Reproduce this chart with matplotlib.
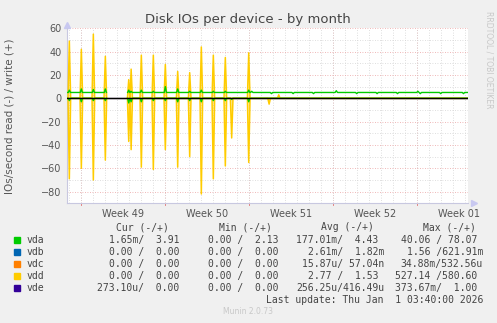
import numpy as np
import matplotlib.pyplot as plt
from matplotlib.patches import Rectangle

# x axis = days since Sun 30 Nov 2025 00:00 (munin month view, 33 days)
spike_days = [-0.95, 0.05, 1.05, 2.05, 4.0, 4.2, 5.05, 6.05, 7.05, 8.08, 9.08,
              10.05, 11.05, 12.05, 12.58, 14.0, 15.7, 16.5]
vdd_write = [49, 42, 55, 36, 16, 25, 37, 37, 29, 23, 22, 44, 37, 35, 0, 39, 0, 3]
vdd_read = [69, 60, 70, 53, 37, 44, 59, 61, 44, 59, 50, 82, 69, 58, 34, 55, 5, 0]
vda_write_peak = [7, 8, 7.5, 8, 7, 6, 7, 6, 10, 8, 6, 7, 6, 6, 5, 7, 5, 5]
vda_read_peak = [2, 3, 2, 2, 4, 3, 3, 2, 2, 3, 2, 3, 2, 2, 1, 3, 0, 0]

# quiet part of vda write
vda_quiet_days = [14.25, 15.9, 17.7, 19.4, 21.3, 23.0, 24.7, 26.4, 28.1, 28.3, 30.0, 31.9]
vda_quiet_vals = [6, 4, 4, 4, 6.5, 4, 4, 4, 6, 4, 4, 4]
vda_base = 5

gap = (3.0, 3.95)          # no samples
start_day, end_day = -1.12, 32.3

weeks = ["Week 49", "Week 50", "Week 51", "Week 52", "Week 01"]
week_starts = [0, 7, 14, 21, 28]

devices = ["vda", "vdb", "vdc", "vdd", "vde"]
colors = ["#00CC00", "#0066B3", "#FF8000", "#FFCC00", "#330099"]
cur = ["1.65m/  3.91 ", "0.00 /  0.00 ", "0.00 /  0.00 ", "0.00 /  0.00 ", "273.10u/  0.00 "]
mins = ["0.00 /  2.13 ", "0.00 /  0.00 ", "0.00 /  0.00 ", "0.00 /  0.00 ", "0.00 /  0.00 "]
avgs = ["177.01m/  4.43 ", "2.61m/  1.82m", "15.87u/ 57.04n", "2.77 /  1.53 ", "256.25u/416.49u"]
maxs = ["40.06 / 78.07 ", "1.56 /621.91m", "34.88m/532.56u", "527.14 /580.60 ", "373.67m/  1.00 "]


def spikes(days, peaks, base, quiet=(), half=0.09):
    pts = [(start_day, base), (end_day, base)]
    for d, p in zip(days, peaks):
        pts += [(d - half, base), (d, p), (d + half, base)]
    for d, p in quiet:
        pts += [(d - 0.1, base), (d, p), (d + 0.1, base)]
    pts.sort()
    t = np.array([p[0] for p in pts])
    v = np.array([p[1] for p in pts], dtype=float)
    # break the line over the missing samples
    i = np.searchsorted(t, gap[0])
    t = np.insert(t, i, (gap[0] + gap[1]) / 2)
    v = np.insert(v, i, np.nan)
    return t, v


fig = plt.figure(figsize=(4.97, 3.23), dpi=100, facecolor="#F0F0F0")
ax = fig.add_axes([67.3 / 497, 1 - 203.3 / 323, 401 / 497, 175 / 323])
ax.set_facecolor("white")

t, w = spikes(spike_days, vdd_write, 0, half=0.11)
tr, r = spikes(spike_days, vdd_read, 0, half=0.11)
ax.fill_between(t, w, color=colors[3], alpha=0.35, lw=0, zorder=3)
ax.fill_between(tr, -r, color=colors[3], alpha=0.35, lw=0, zorder=3)
ax.plot(t, w, color=colors[3], lw=1.1, zorder=3)
ax.plot(tr, -r, color=colors[3], lw=1.1, zorder=3)

for i in (1, 2, 4):
    ax.plot([start_day, end_day], [0, 0], color=colors[i], lw=0.8, zorder=2)

t, w = spikes(spike_days, vda_write_peak, vda_base, zip(vda_quiet_days, vda_quiet_vals))
tr, r = spikes(spike_days, vda_read_peak, 0)
ax.plot(t, w, color=colors[0], lw=1.0, zorder=4)
ax.plot(tr, -r, color=colors[0], lw=1.0, zorder=4)

ax.axhline(0, color="black", lw=1.0, zorder=5)

ax.set_xlim(start_day, end_day)
ax.set_ylim(-90, 60)
ax.set_yticks(np.arange(-80, 61, 20))
ax.set_yticks(np.arange(-90, 61, 10), minor=True)
ax.set_xticks(np.arange(-1, 33), minor=True)
ax.set_xticks([s + 3.5 for s in week_starts])
ax.set_xticklabels(weeks)
ax.tick_params(axis="both", which="both", length=0, labelsize=7, colors="#555555")
ax.tick_params(axis="y", pad=4)
ax.tick_params(axis="x", pad=4)

ax.grid(axis="x", which="minor", color="#d4d4d4", ls=(0, (1, 2)), lw=0.6)
ax.grid(axis="y", which="minor", color="#d4d4d4", ls=(0, (1, 2)), lw=0.6)
ax.grid(axis="y", which="major", color="#eaa0a0", ls=(0, (1, 2)), lw=0.6)
for s in week_starts:
    ax.axvline(s, color="#eaa0a0", ls=(0, (1, 2)), lw=0.6, zorder=1)
    ax.axvline(s, ymin=-0.012, ymax=0, color="#e07070", lw=0.6, clip_on=False)

for side in ("top", "right"):
    ax.spines[side].set_visible(False)
for side in ("left", "bottom"):
    ax.spines[side].set_color("#c8c8e0")
    ax.spines[side].set_linewidth(0.8)
ax.plot(0, 1.02, marker="^", color="#c8c8f0", ms=4, transform=ax.transAxes, clip_on=False)
ax.plot(1.015, 0, marker=">", color="#c8c8f0", ms=4, transform=ax.transAxes, clip_on=False)

fig.text(248 / 497, 1 - 19 / 323, "Disk IOs per device - by month", ha="center", va="center",
         fontsize=9.5, color="#444444")
fig.text(10 / 497, 1 - 116 / 323, "IOs/second read (-) / write (+)", rotation=90,
         ha="center", va="center", fontsize=7.5, color="#555555")
fig.text(489 / 497, 1 - 60 / 323, "RRDTOOL / TOBI OETIKER", rotation=270, ha="center",
         va="center", fontsize=5.5, color="#c8c8c8")

mono = dict(family="DejaVu Sans Mono", fontsize=7, color="#444444", va="center")
hy = 1 - 227.3 / 323
for label, x in zip(["Cur (-/+)", "Min (-/+)", "Avg (-/+)", "Max (-/+)"], [169.3, 271.7, 374, 476]):
    fig.text(x / 497, hy, label, ha="right", **mono)

for i, dev in enumerate(devices):
    y = 240 + 12 * i
    fy = 1 - y / 323
    fig.patches.append(Rectangle((14 / 497, 1 - (y + 3) / 323), 6 / 497, 6 / 323,
                                 transform=fig.transFigure, color=colors[i]))
    fig.text(26.7 / 497, fy, dev, ha="left", **mono)
    for txt, x in zip([cur[i], mins[i], avgs[i], maxs[i]], [185, 284, 384, 483]):
        fig.text(x / 497, fy, txt, ha="right", **mono)

fig.text(483 / 497, 1 - 300 / 323, "Last update: Thu Jan  1 03:40:00 2026", ha="right", **mono)
fig.text(248 / 497, 1 - 312 / 323, "Munin 2.0.73", ha="center", va="center",
         fontsize=5.5, color="#c8c8c8")

fig.savefig("out.png", dpi=100, facecolor=fig.get_facecolor())
